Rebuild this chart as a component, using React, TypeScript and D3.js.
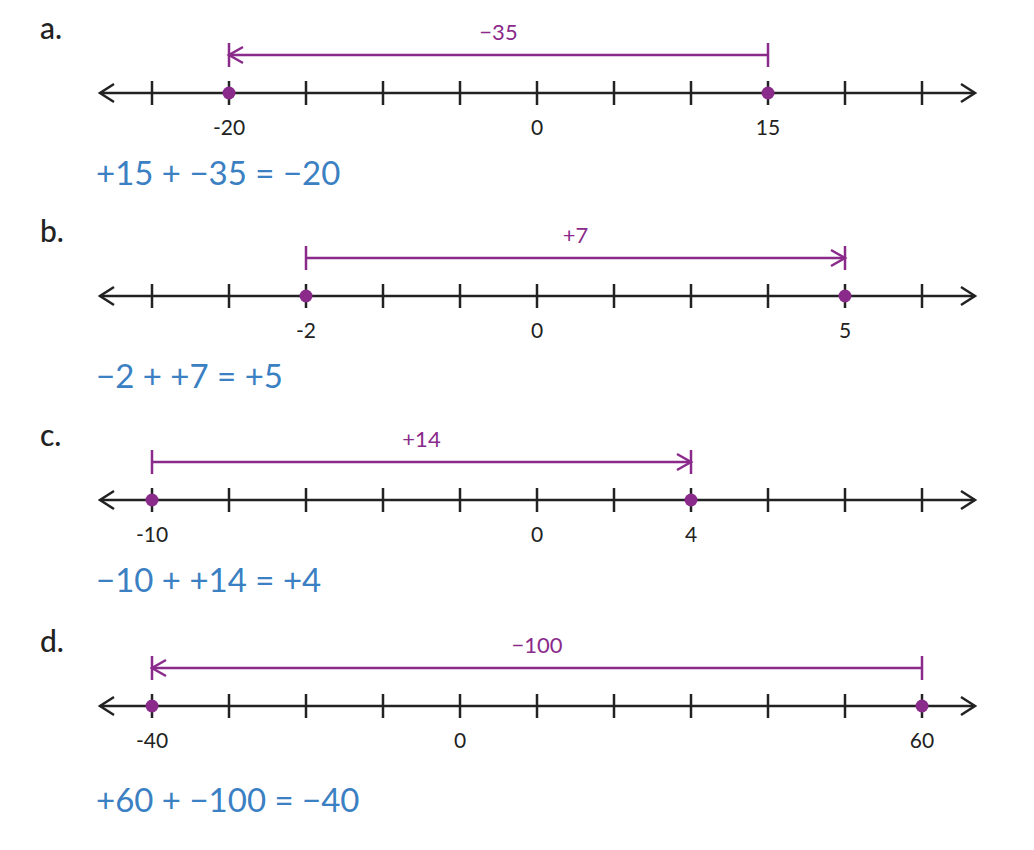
import React from "react";
import * as d3 from "d3";

const letters = ["a.", "b.", "c.", "d."];
const tickCount = 11;
const labelTexts = [["-20", "0", "15"], ["-2", "0", "5"], ["-10", "0", "4"], ["-40", "0", "60"]];
const labelTicks = [[1, 5, 8], [2, 5, 9], [0, 5, 7], [0, 4, 10]];
const jumpFrom = [8, 2, 0, 10];
const jumpTo = [1, 9, 7, 0];
const jumpLabels = ["\u221235", "+7", "+14", "\u2212100"];
const equations = ["+15 + \u221235 = \u221220", "\u22122 + +7 = +5", "\u221210 + +14 = +4", "+60 + \u2212100 = \u221240"];
const axisY = [93, 296, 500, 706];
const eqY = [185, 388, 592, 812];

const purple = "#8a2a8a";
const blue = "#3b80c2";
const font = "Lato, 'Open Sans', sans-serif";

export default function App() {
  const x = d3.scaleLinear().domain([0, tickCount - 1]).range([152, 922]);
  const ticks = d3.range(tickCount);
  return (
    <svg width={1034} height={850} style={{ display: "block", position: "absolute", left: 0, top: 0 }} fontFamily={font}>
      {letters.map((L, i) => {
        const y = axisY[i];
        const by = y - 38;
        const x1 = x(jumpFrom[i]);
        const x2 = x(jumpTo[i]);
        const dir = x2 > x1 ? 1 : -1;
        return (
          <g key={i}>
            <text x={40} y={y - 54} fontSize={30} fontWeight={500} fill="#222">{L}</text>
            <line x1={100} x2={975} y1={y} y2={y} stroke="#222" strokeWidth={2.5} />
            <path d={`M114,${y - 9} L100,${y} L114,${y + 9}`} fill="none" stroke="#222" strokeWidth={2.5} />
            <path d={`M961,${y - 9} L975,${y} L961,${y + 9}`} fill="none" stroke="#222" strokeWidth={2.5} />
            {ticks.map(t => (
              <line key={t} x1={x(t)} x2={x(t)} y1={y - 12} y2={y + 12} stroke="#222" strokeWidth={2.5} />
            ))}
            {labelTicks[i].map((t, j) => (
              <text key={j} x={x(t)} y={y + 42} fontSize={21} textAnchor="middle" fill="#222">{labelTexts[i][j]}</text>
            ))}
            <line x1={x1} x2={x1} y1={by - 12} y2={by + 12} stroke={purple} strokeWidth={2.5} />
            <line x1={x2} x2={x2} y1={by - 12} y2={by + 12} stroke={purple} strokeWidth={2.5} />
            <line x1={x1} x2={x2} y1={by} y2={by} stroke={purple} strokeWidth={2.5} />
            <path d={`M${x2 - dir * 14},${by - 8} L${x2},${by} L${x2 - dir * 14},${by + 8}`} fill="none" stroke={purple} strokeWidth={2.5} />
            <text x={(x1 + x2) / 2} y={by - 15} fontSize={22} textAnchor="middle" fill={purple}>{jumpLabels[i]}</text>
            <circle cx={x1} cy={y} r={6.5} fill={purple} />
            <circle cx={x2} cy={y} r={6.5} fill={purple} />
            <text x={96} y={eqY[i]} fontSize={33} fill={blue}>{equations[i]}</text>
          </g>
        );
      })}
    </svg>
  );
}
